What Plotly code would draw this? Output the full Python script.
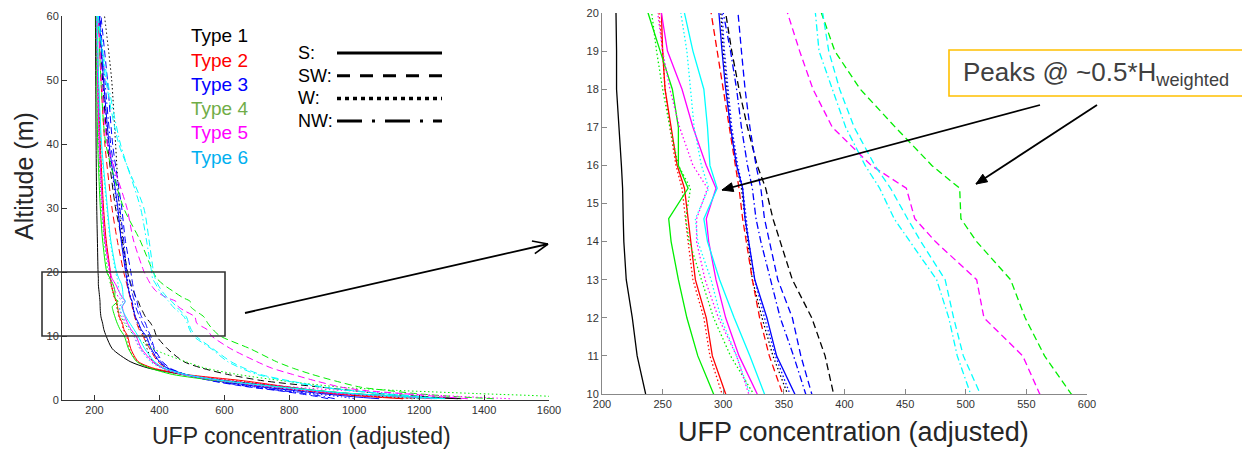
import math
import plotly.graph_objects as go

# ---------------- data ----------------
ALT = [0.2, 0.5, 1, 1.5, 2, 3, 4, 5, 6, 8, 10, 11, 12, 13, 14, 14.6, 15.4, 16, 17, 18, 19, 20, 25, 30, 40, 50, 60]

TYPE1_S  = [1320, 1180, 990, 880, 800, 610, 470, 365, 310, 255, 236, 229, 225, 220, 218, 217.5, 217, 216, 214, 212, 212, 211, 209, 207, 205, 204, 203]
TYPE1_SW = [1330, 1230, 1080, 990, 900, 720, 610, 530, 475, 425, 391, 384, 373, 357, 347, 341, 335, 328, 320, 313, 307, 302, 285, 265, 240, 225, 215]
TYPE1_W  = [1200, 1100, 950, 840, 740, 580, 470, 410, 380, 362, 353, 341, 332, 324, 320, 318, 315, 311, 306, 303, 300, 298, 287, 277, 265, 253, 231]

TYPE2_S  = [1150, 1050, 930, 860, 800, 660, 480, 380, 335, 312, 302, 291, 286, 277, 273, 271, 268, 262, 257, 252, 250, 249, 236, 228, 218, 212, 208]
TYPE2_W  = [1180, 1070, 940, 860, 790, 640, 470, 375, 332, 308, 299, 289, 284, 275, 271, 269, 266, 261, 256, 252, 250, 247, 235, 227, 217, 211, 207]
TYPE2_SW = [1150, 1080, 930, 830, 740, 580, 480, 420, 395, 370, 349, 338, 330, 324, 319, 316, 313, 310, 305, 300, 295, 290, 270, 254, 232, 220, 212]

TYPE3_S  = [1077, 1000, 900, 810, 720, 580, 480, 425, 400, 375, 359, 344, 336, 326, 321, 318, 316, 311, 306, 302, 299, 296, 282, 272, 245, 228, 215]
TYPE3_W  = [1000, 960, 870, 780, 700, 570, 475, 422, 398, 372, 355, 343, 334, 326, 321, 319, 316, 312, 307, 304, 301, 299, 283, 270, 243, 227, 214]
TYPE3_SW = [920, 890, 830, 760, 680, 560, 480, 432, 410, 385, 373, 364, 357, 345, 338, 334, 331, 327, 322, 318, 315, 312, 295, 284, 256, 240, 220]
TYPE3_NW = [940, 910, 850, 770, 690, 565, 478, 428, 405, 382, 368, 358, 347, 339, 331, 327, 324, 320, 315, 311, 306, 300, 290, 278, 250, 232, 217]

TYPE4_S  = [1240, 1150, 990, 880, 780, 580, 440, 370, 330, 305, 292, 279, 270, 263, 257, 255, 271, 263, 263, 258, 248, 238, 225, 218, 210, 207, 205]
TYPE4_W  = [1650, 1620, 1380, 1130, 960, 780, 640, 540, 480, 380, 325, 306, 292, 282, 272, 269, 273, 263, 256, 250, 245, 241, 230, 222, 213, 209, 206]
TYPE4_SW = [1430, 1320, 1190, 1100, 1020, 940, 870, 810, 760, 680, 587, 565, 549, 537, 509, 496, 495, 472, 442, 413, 392, 381, 340, 290, 235, 220, 212]

TYPE5_S  = [1250, 1150, 960, 860, 760, 590, 470, 410, 380, 345, 328, 313, 302, 294, 288, 286, 294, 286, 275, 266, 254, 249, 232, 225, 215, 210, 207]
TYPE5_W  = [1480, 1350, 1150, 960, 820, 620, 480, 410, 375, 340, 321, 311, 296, 285, 278, 278, 287, 275, 264, 256, 250, 246, 232, 224, 214, 209, 206]
TYPE5_SW = [1350, 1270, 1150, 1030, 960, 880, 810, 745, 700, 620, 561, 547, 515, 509, 475, 458, 451, 422, 390, 374, 363, 353, 320, 300, 240, 222, 212]

TYPE6_S  = [1280, 1180, 1000, 880, 780, 600, 480, 415, 385, 355, 334, 322, 309, 297, 287, 284, 295, 289, 287, 284, 275, 268, 250, 240, 222, 213, 208]
TYPE6_W  = [1220, 1120, 970, 860, 760, 590, 470, 405, 372, 342, 322, 311, 298, 290, 279, 277, 288, 282, 276, 273, 270, 265, 248, 238, 220, 212, 207]
TYPE6_NW = [1255, 1200, 1080, 980, 900, 790, 700, 650, 610, 560, 504, 493, 486, 476, 454, 441, 429, 417, 401, 390, 379, 376, 360, 342, 280, 240, 210]
TYPE6_SW = [1270, 1210, 1090, 990, 910, 800, 710, 660, 620, 565, 512, 498, 490, 483, 463, 452, 438, 425, 408, 396, 387, 382, 368, 352, 275, 235, 212]

SERIES = [
    ("Type 1", "S", TYPE1_S), ("Type 1", "SW", TYPE1_SW), ("Type 1", "W", TYPE1_W),
    ("Type 2", "S", TYPE2_S), ("Type 2", "W", TYPE2_W), ("Type 2", "SW", TYPE2_SW),
    ("Type 3", "S", TYPE3_S), ("Type 3", "W", TYPE3_W), ("Type 3", "SW", TYPE3_SW), ("Type 3", "NW", TYPE3_NW),
    ("Type 4", "S", TYPE4_S), ("Type 4", "W", TYPE4_W), ("Type 4", "SW", TYPE4_SW),
    ("Type 5", "S", TYPE5_S), ("Type 5", "W", TYPE5_W), ("Type 5", "SW", TYPE5_SW),
    ("Type 6", "S", TYPE6_S), ("Type 6", "W", TYPE6_W), ("Type 6", "NW", TYPE6_NW), ("Type 6", "SW", TYPE6_SW),
]

TYPES = ["Type 1", "Type 2", "Type 3", "Type 4", "Type 5", "Type 6"]
DIRECTIONS = ["S:", "SW:", "W:", "NW:"]

LINE_COLORS = {"Type 1": "#000000", "Type 2": "#FF0000", "Type 3": "#0000FF",
               "Type 4": "#00EE00", "Type 5": "#FF00FF", "Type 6": "#00FFFF"}
LABEL_COLORS = {"Type 1": "#000000", "Type 2": "#FF0000", "Type 3": "#0000FF",
                "Type 4": "#70AD47", "Type 5": "#FF00FF", "Type 6": "#00B0F0"}
DASH = {"S": "solid", "SW": "7px,4px", "W": "1.5px,2.5px", "NW": "7px,3px,1.5px,3px"}
LEGEND_DASH = {"S:": "solid", "SW:": "13px,10px", "W:": "4px,4px", "NW:": "25px,10px,3px,10px"}

# ---------------- figure ----------------
W, H = 1242, 453
FONT = "Liberation Sans, Arial, Helvetica, sans-serif"


def px(x):
    return x / W


def py(y):
    return 1 - y / H


fig = go.Figure()
for t, d, vals in SERIES:
    # overview panel: smooth curves
    fig.add_trace(go.Scatter(
        x=vals, y=ALT, xaxis="x", yaxis="y", mode="lines",
        line=dict(color=LINE_COLORS[t], width=1.0, dash=DASH[d], shape="spline", smoothing=0.7),
        showlegend=False, hoverinfo="skip"))
    # zoomed panel: piecewise linear
    fig.add_trace(go.Scatter(
        x=vals, y=ALT, xaxis="x2", yaxis="y2", mode="lines",
        line=dict(color=LINE_COLORS[t], width=1.3, dash=DASH[d]),
        showlegend=False, hoverinfo="skip"))

axis_common = dict(showgrid=False, zeroline=False, showline=True, ticks="inside",
                   ticklen=5, tickwidth=1, mirror=False, automargin=False,
                   tickfont=dict(family=FONT, size=11, color="#333333"))

fig.update_layout(
    template="none",
    width=W, height=H, margin=dict(l=0, r=0, t=0, b=0, pad=0, autoexpand=False),
    paper_bgcolor="white", plot_bgcolor="white",
    font=dict(family=FONT),
    xaxis=dict(domain=[px(62), px(549)], range=[100, 1600], tickvals=list(range(200, 1601, 200)),
               anchor="y", linecolor="#333333", tickcolor="#333333", **axis_common),
    yaxis=dict(domain=[py(400), py(16)], range=[0, 60], tickvals=list(range(0, 61, 10)),
               anchor="x", linecolor="#333333", tickcolor="#333333", **axis_common),
    xaxis2=dict(domain=[px(602), px(1087)], range=[200, 600], tickvals=list(range(200, 601, 50)),
                anchor="y2", linecolor="#888888", tickcolor="#888888", **axis_common),
    yaxis2=dict(domain=[py(394), py(13)], range=[10, 20], tickvals=list(range(10, 21)),
                anchor="x2", linecolor="#888888", tickcolor="#888888", **axis_common),
)

annotations = []
shapes = []

# axis titles
annotations.append(dict(text="UFP concentration (adjusted)", x=px(301), y=py(436), xref="paper", yref="paper",
                        showarrow=False, xanchor="center", yanchor="middle",
                        font=dict(family=FONT, size=23, color="#262626")))
annotations.append(dict(text="UFP concentration (adjusted)", x=px(853), y=py(432), xref="paper", yref="paper",
                        showarrow=False, xanchor="center", yanchor="middle",
                        font=dict(family=FONT, size=27, color="#262626")))
annotations.append(dict(text="Altitude (m)", x=px(24), y=py(176), xref="paper", yref="paper",
                        showarrow=False, xanchor="center", yanchor="middle", textangle=-90,
                        font=dict(family=FONT, size=25, color="#262626")))

# type labels
for i, t in enumerate(TYPES):
    annotations.append(dict(text=t, x=px(189), y=py(36 + i * 24.2), xref="paper", yref="paper",
                            showarrow=False, xanchor="left", yanchor="middle",
                            font=dict(family=FONT, size=19, color=LABEL_COLORS[t])))

# direction line-style key
for i, d in enumerate(DIRECTIONS):
    yy = 53 + i * 22.7
    annotations.append(dict(text=d, x=px(296), y=py(yy), xref="paper", yref="paper",
                            showarrow=False, xanchor="left", yanchor="middle",
                            font=dict(family=FONT, size=18, color="#000000")))
    shapes.append(dict(type="line", xref="paper", yref="paper", x0=px(337), x1=px(442),
                       y0=py(yy), y1=py(yy),
                       line=dict(color="black", width=3.5 if d == "W:" else 3, dash=LEGEND_DASH[d])))

# zoom rectangle on left panel
shapes.append(dict(type="rect", xref="paper", yref="paper", x0=px(42), x1=px(225), y0=py(336), y1=py(272),
                   line=dict(color="#333333", width=1.6)))


def line_shape(p0, p1, width=1.8):
    return dict(type="line", xref="paper", yref="paper", x0=px(p0[0]), y0=py(p0[1]),
                x1=px(p1[0]), y1=py(p1[1]), line=dict(color="black", width=width))


def arrow(tail, tip, filled=True, length=11, half=4.5):
    out = [line_shape(tail, tip)]
    dx, dy = tip[0] - tail[0], tip[1] - tail[1]
    n = math.hypot(dx, dy)
    ux, uy = dx / n, dy / n
    bx, by = tip[0] - ux * length, tip[1] - uy * length
    pxv, pyv = -uy, ux
    a = (bx + pxv * half, by + pyv * half)
    b = (bx - pxv * half, by - pyv * half)
    if filled:
        path = "M {} {} L {} {} L {} {} Z".format(px(tip[0]), py(tip[1]), px(a[0]), py(a[1]), px(b[0]), py(b[1]))
        out.append(dict(type="path", xref="paper", yref="paper", path=path,
                        fillcolor="black", line=dict(color="black", width=1)))
    else:
        out.append(line_shape(tip, a, 1.6))
        out.append(line_shape(tip, b, 1.6))
    return out


shapes += arrow((245, 313), (548, 244), filled=False, length=15, half=6.5)
shapes += arrow((1040, 105), (722, 190))
shapes += arrow((1097, 105), (976, 184))

# callout box
shapes.append(dict(type="rect", xref="paper", yref="paper", x0=px(949), x1=px(1250), y0=py(96), y1=py(50),
                   line=dict(color="#FFC000", width=1.6)))
annotations.append(dict(text="Peaks @ ~0.5*H<sub>weighted</sub>", x=px(961), y=py(74), xref="paper", yref="paper",
                        showarrow=False, xanchor="left", yanchor="middle",
                        font=dict(family=FONT, size=26, color="#404040")))

fig.update_layout(annotations=annotations, shapes=shapes)

fig.write_html("out.html", config={"displayModeBar": False},
               post_script="document.body.style.margin='0px';")
